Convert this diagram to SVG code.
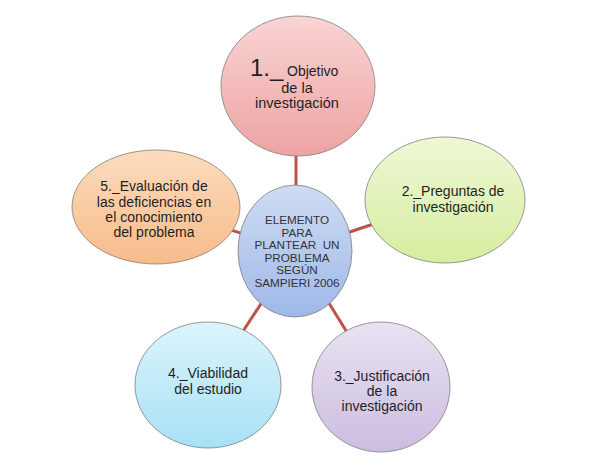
<svg xmlns="http://www.w3.org/2000/svg" width="598" height="469" viewBox="0 0 598 469">
<defs>
<linearGradient id="gRed" x1="0" y1="0" x2="0" y2="1"><stop offset="0" stop-color="#f9d4d4"/><stop offset="1" stop-color="#eea2a2"/></linearGradient>
<linearGradient id="gGreen" x1="0" y1="0" x2="0" y2="1"><stop offset="0" stop-color="#eef8d6"/><stop offset="1" stop-color="#d6ed9f"/></linearGradient>
<linearGradient id="gPurple" x1="0" y1="0" x2="0" y2="1"><stop offset="0" stop-color="#e9e2f2"/><stop offset="1" stop-color="#cbbde0"/></linearGradient>
<linearGradient id="gCyan" x1="0" y1="0" x2="0" y2="1"><stop offset="0" stop-color="#dcf4fc"/><stop offset="1" stop-color="#a7e1f5"/></linearGradient>
<linearGradient id="gOrange" x1="0" y1="0" x2="0" y2="1"><stop offset="0" stop-color="#fcdcbd"/><stop offset="1" stop-color="#f8bb8a"/></linearGradient>
<linearGradient id="gBlue" x1="0" y1="0" x2="0" y2="1"><stop offset="0" stop-color="#cfdcf3"/><stop offset="1" stop-color="#9fb8e8"/></linearGradient>
</defs>
<style>
.node { stroke: #7f7f7f; stroke-width: 1; stroke-opacity: 0.8; }
.conn { stroke: #c0504d; stroke-width: 3; }
text { font-family: "Liberation Sans", Arial, sans-serif; fill: #1f1f1f; text-anchor: middle; }
.t { font-size: 14px; }
.c { font-size: 11.7px; fill: #333333; }
</style>
<rect width="598" height="469" fill="#ffffff"/>
<g id="connectors">
<line class="conn" x1="296" y1="250" x2="296" y2="120"/>
<line class="conn" x1="296" y1="250" x2="445" y2="200"/>
<line class="conn" x1="296" y1="250" x2="381" y2="387"/>
<line class="conn" x1="296" y1="250" x2="208" y2="385"/>
<line class="conn" x1="296" y1="250" x2="156" y2="207"/>
</g>
<g id="node1">
<ellipse class="node" cx="298" cy="86" rx="77" ry="70" fill="url(#gRed)"/>
<text x="250" y="76" style="text-anchor:start;font-size:24px">1._</text>
<text x="287" y="76" style="text-anchor:start;font-size:14px">Objetivo</text>
<text x="297" y="93" style="font-size:14.5px">de la</text>
<text x="297" y="108" style="font-size:14.5px">investigación</text>
</g>
<g id="node2">
<ellipse class="node" cx="445" cy="200" rx="80" ry="63" fill="url(#gGreen)"/>
<text class="t" x="453" y="196">2._Preguntas de</text>
<text class="t" x="453" y="212">investigación</text>
</g>
<g id="node3">
<ellipse class="node" cx="381" cy="387" rx="69" ry="65" fill="url(#gPurple)"/>
<text class="t" x="382" y="381">3._Justificación</text>
<text class="t" x="382" y="396">de la</text>
<text class="t" x="382" y="411">investigación</text>
</g>
<g id="node4">
<ellipse class="node" cx="208" cy="385" rx="73" ry="63" fill="url(#gCyan)"/>
<text class="t" x="208" y="378">4._Viabilidad</text>
<text class="t" x="208" y="394">del estudio</text>
</g>
<g id="node5">
<ellipse class="node" cx="156" cy="207" rx="84" ry="57" fill="url(#gOrange)"/>
<text class="t" x="154" y="191">5._Evaluación de</text>
<text class="t" x="154" y="207">las deficiencias en</text>
<text class="t" x="154" y="222">el conocimiento</text>
<text class="t" x="154" y="237">del problema</text>
</g>
<g id="center">
<ellipse class="node" cx="295" cy="251" rx="57" ry="66" fill="url(#gBlue)"/>
<text class="c" x="297" y="224">ELEMENTO</text>
<text class="c" x="297" y="236.5">PARA</text>
<text class="c" x="297" y="249" xml:space="preserve">PLANTEAR  UN</text>
<text class="c" x="297" y="261.5">PROBLEMA</text>
<text class="c" x="297" y="274">SEGÚN</text>
<text class="c" x="297" y="286.5">SAMPIERI 2006</text>
</g>
</svg>
